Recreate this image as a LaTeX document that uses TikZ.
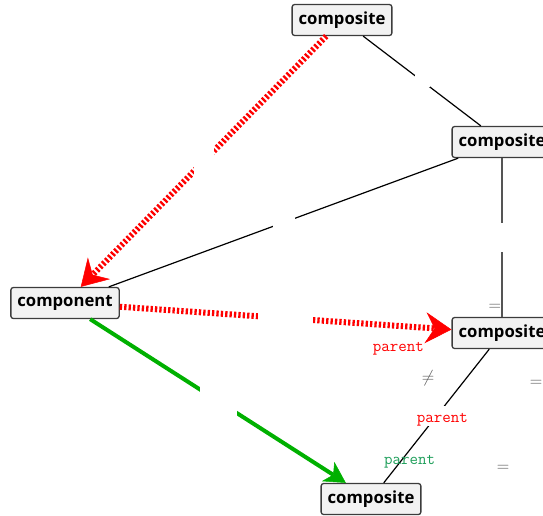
\documentclass[tikz,border=0pt]{standalone}
\usepackage{fontspec}
\setsansfont{Open Sans}
\usepackage{tikz}
\usetikzlibrary{arrows.meta, positioning}
\definecolor{linkred}{HTML}{FF0000}
\definecolor{linkgreen}{HTML}{00B000}
\definecolor{labelgreen}{HTML}{1E9E5A}
\definecolor{relgray}{HTML}{555555}
\definecolor{boxfill}{HTML}{F2F2F2}
\definecolor{boxline}{HTML}{3C3C3C}

\begin{document}
\begin{tikzpicture}[
  x=1pt, y=1pt,
  elem/.style={draw=boxline, fill=boxfill, line width=1.3pt, rounded corners=2.5pt, minimum height=31pt, inner xsep=6.5pt, inner ysep=0pt, font=\sffamily\bfseries\fontsize{16.7}{19}\selectfont},
  link/.style={draw=black, line width=1.2pt},
  samelink/.style={draw=relgray, line width=1.7pt},
  parentlink/.style={draw=linkred, line width=6pt, dash pattern=on 2.3pt off 2.1pt, -{Stealth[length=26pt, width=31pt, inset=9pt, line width=0.5pt]}},
  childlink/.style={draw=linkgreen, line width=4pt, -{Stealth[length=21pt, width=23pt, inset=6pt, line width=0.5pt]}},
  hole/.style 2 args={fill=white, inner sep=0pt, minimum width=#1, minimum height=#2},
  role/.style={font=\ttfamily\fontsize{16.5}{19}\selectfont, inner sep=1pt},
  rel/.style={text=relgray, font=\fontsize{18}{21}\selectfont, inner sep=0pt}
]
\useasboundingbox (0,0) rectangle (543,-515);
\clip (0,0) rectangle (543,-515);
\node[elem] (top) at (342,-20) {composite};
\node[elem] (side) at (502,-142) {composite};
\node[elem] (comp) at (65,-303) {component};
\node[elem] (par) at (502,-333) {composite};
\node[elem] (low) at (371,-499) {composite};

\draw[link] (top) -- node[hole={15}{12}] {} (side);
\draw[link] (side) -- node[hole={22}{12}] {} (comp);
\draw[samelink] (side) -- node[hole={10}{29}] {} node[pos=0.94, left, rel] {$=$} (par);
\draw[link] (par) -- node[hole={17}{20}] {}
  node[pos=0.53, xshift=9pt, role, text=linkred] {parent}
  node[pos=0.84, xshift=9pt, role, text=labelgreen] {parent} (low);
\draw[parentlink] (top) -- node[hole={20}{30}] {} (comp);
\draw[parentlink] (comp) -- node[hole={55}{14}] {} node[pos=0.84, below=12pt, role, text=linkred] {parent} (par);
\draw[childlink] (comp) -- node[hole={37}{30}] {} (low);

\node[rel] (neq) at (428,-378) {$\neq$};
\node[rel] (eqa) at (536,-383) {$=$};
\node[rel] (eqb) at (503,-468) {$=$};
\end{tikzpicture}
\end{document}
